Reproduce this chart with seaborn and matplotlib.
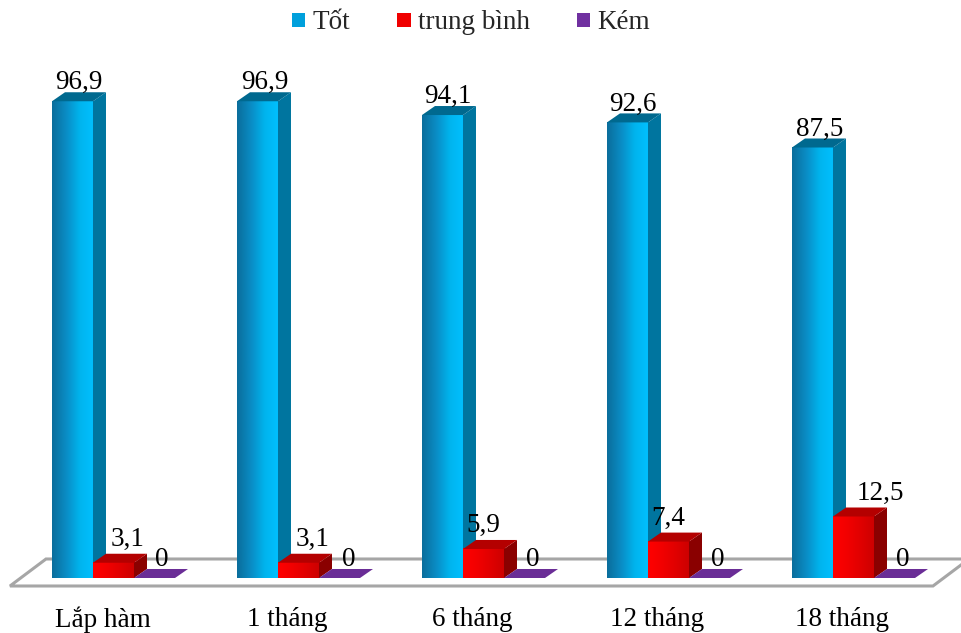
import numpy as np
import pandas as pd
import seaborn as sns
import matplotlib
matplotlib.use("Agg")
import matplotlib.pyplot as plt
from matplotlib.patches import Polygon, Patch
from matplotlib.colors import LinearSegmentedColormap

# --- data -------------------------------------------------------------
categories = ["Lắp hàm", "1 tháng", "6 tháng", "12 tháng", "18 tháng"]
series = ["Tốt", "trung bình", "Kém"]
tot = [96.9, 96.9, 94.1, 92.6, 87.5]
trung_binh = [3.1, 3.1, 5.9, 7.4, 12.5]
kem = [0, 0, 0, 0, 0]

df = pd.DataFrame({
    "mốc": categories * 3,
    "nhóm": np.repeat(series, len(categories)),
    "tỉ lệ": tot + trung_binh + kem,
})

# --- styling ------------------------------------------------------------
front_colors = ["#00a0dc", "#f00000", "#7030a0"]
front_grad = [
    ["#0a6e9c", "#0a8cc4", "#00b4ee", "#00c0ff"],
    ["#ff0000", "#f20000", "#e00000", "#cc0000"],
    ["#7030a0", "#7030a0"],
]
side_colors = ["#00759f", "#8a0000", "#5a2288"]
top_colors = ["#00698f", "#b40000", "#6a2d96"]
label_dx_px = [[6, 7, 5, 5, 7], [14, 14, 0, 0, 27], [7, 9, 8, 8, 8]]
label_gap_px = [3, 8, 3]
DEPTH_X, DEPTH_Y = 13, 9   # pixel offset of the 3-D depth faces
FS = 19.5

sns.set_theme(style="white")
plt.rcParams["font.family"] = ["Liberation Serif", "DejaVu Serif"]

fig = plt.figure(figsize=(9.61, 6.33), dpi=100)
ax = fig.add_axes([0, 0, 1, 1])

sns.barplot(data=df, x="mốc", y="tỉ lệ", hue="nhóm", order=categories,
            hue_order=series, palette=front_colors, width=0.665,
            saturation=1, legend=False, ax=ax, errorbar=None)

ax.set_xlim(-0.6135, 4.5811)
ax.set_ylim(-11.18, 117.48)
ax.axis("off")

p0 = ax.transData.transform((0, 0))
p1 = ax.transData.transform((1, 1))
sx, sy = p1[0] - p0[0], p1[1] - p0[1]
dx, dy = DEPTH_X / sx, DEPTH_Y / sy

# floor plane
fx0, fx1 = -0.5595, 4.4297
f_front, f_back = -8 / sy, 19 / sy
f_dx = 36 / sx
floor = Polygon([(fx0, f_front), (fx1, f_front), (fx1 + f_dx, f_back),
                 (fx0 + f_dx, f_back)], closed=True, facecolor="white",
                edgecolor="#a6a6a6", lw=2.2, zorder=1)
ax.add_patch(floor)

values = [tot, trung_binh, kem]
bw = 0.665 / 3
for p in list(ax.patches):
    if p is floor:
        continue
    x0 = p.get_x()
    w = p.get_width()
    h = p.get_height()
    xc = x0 + w / 2
    ci = int(round(xc))
    si = int(round((xc - ci) / bw)) + 1
    z = 3 + si
    x1 = x0 + w
    p.set_zorder(z)
    p.set_edgecolor("none")
    if h > 0:
        cmap = LinearSegmentedColormap.from_list("g", front_grad[si])
        grad = np.linspace(0, 1, 64).reshape(1, -1)
        ax.imshow(grad, extent=[x0, x1, 0, h], cmap=cmap, aspect="auto",
                  zorder=z + 0.01, interpolation="bilinear")
        side = Polygon([(x1, 0), (x1, h), (x1 + dx, h + dy), (x1 + dx, dy)],
                       closed=True, facecolor=side_colors[si],
                       edgecolor="none", zorder=z + 0.02)
        ax.add_patch(side)
    top = Polygon([(x0, h), (x1, h), (x1 + dx, h + dy), (x0 + dx, h + dy)],
                  closed=True, facecolor=top_colors[si], edgecolor="none",
                  zorder=z + 0.03)
    ax.add_patch(top)

    v = values[si][ci]
    txt = "0" if v == 0 else f"{v:.1f}".replace(".", ",")
    ax.text(xc + label_dx_px[si][ci] / sx,
            h + dy + label_gap_px[si] / sy, txt,
            ha="center", va="baseline", fontsize=FS, color="black",
            zorder=10)

ax.set_xlim(-0.6135, 4.5811)
ax.set_ylim(-11.18, 117.48)

for i, c in enumerate(categories):
    ax.text(i - 11 / sx, -42 / sy, c, ha="center", va="center",
            fontsize=FS, color="black")

handles = [Patch(facecolor=c, edgecolor="none") for c in front_colors]
fig.legend(handles, series, loc="upper center", bbox_to_anchor=(0.49, 1.022),
           ncol=3, frameon=False, fontsize=FS, handlelength=0.5,
           handleheight=0.45, columnspacing=1.75, handletextpad=0.25)

fig.savefig("out.png", dpi=100)
